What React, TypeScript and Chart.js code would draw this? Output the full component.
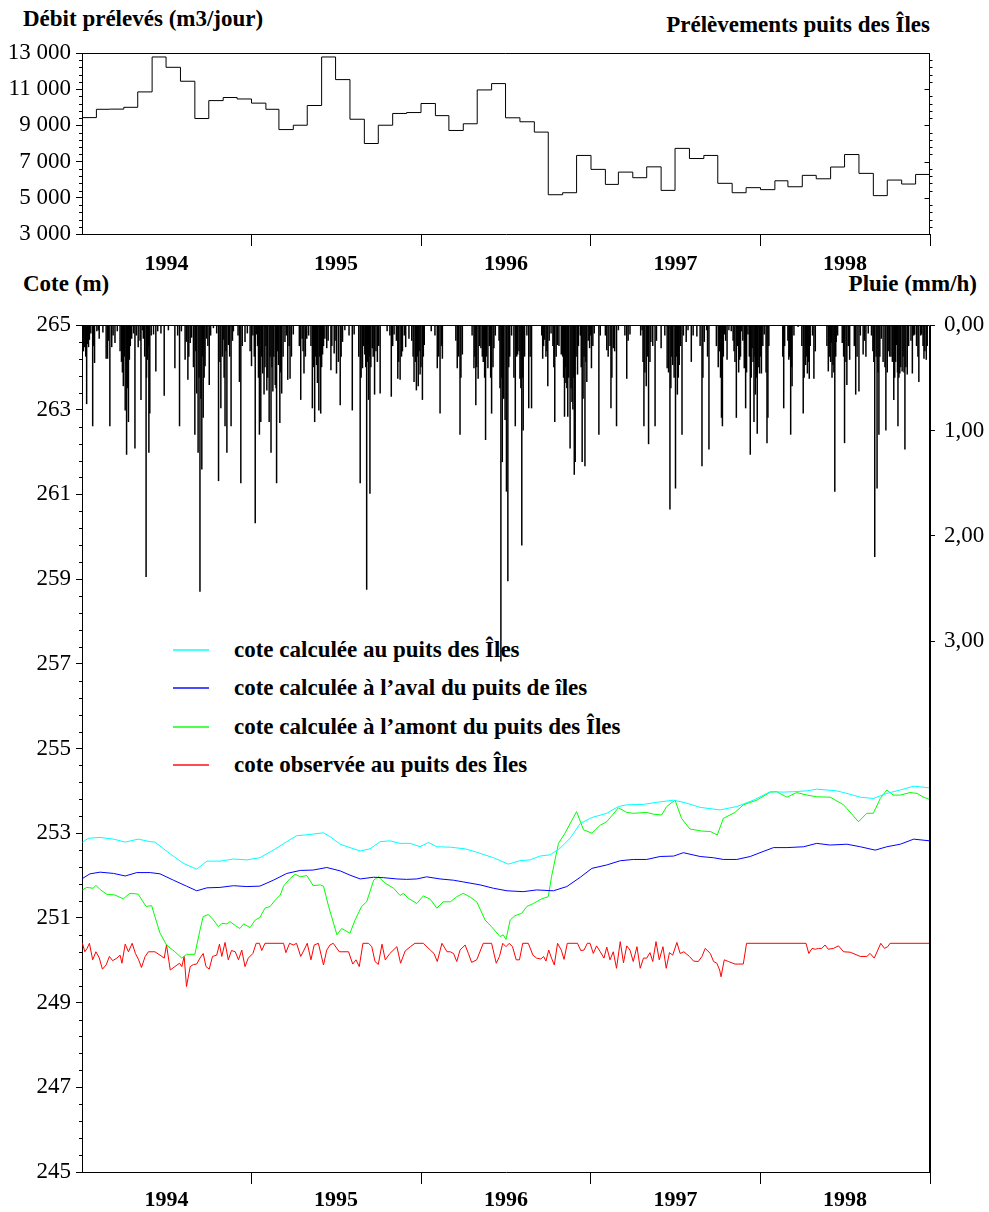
import React, { useEffect, useRef } from 'react';
import { Chart, registerables } from 'chart.js';

Chart.register(...registerables);

const FONT = '"Liberation Serif", "Times New Roman", Times, serif';

// ---------- tick labels / categories ----------
const yearLabels = ['1994', '1995', '1996', '1997', '1998'];
const yearEndDays = [365, 730, 1096, 1461, 1826]; // days since 1994-01-01
const pluieTicks = [0, 1, 2, 3];

// ---------- monthly withdrawals (m3/day), Jan 1994 .. Dec 1998 ----------
const withdrawals = [
  9430, 9890, 9900, 10000, 10850, 12780, 12210, 11440, 9380, 10370, 10540, 10460,
  10230, 9890, 8770, 9010, 10100, 12780, 11530, 9340, 8000, 9010, 9660, 9710,
  10210, 9540, 8720, 9090, 10960, 11310, 9420, 9200, 8630, 5170, 5280, 7340,
  6570, 5740, 6420, 6110, 6710, 5410, 7730, 7170, 7340, 5800, 5280, 5560,
  5450, 5940, 5610, 6240, 6050, 6700, 7390, 6350, 5120, 5980, 5760, 6290,
];

// ---------- levels [day, cote m] ----------
const coteCalculee: [number, number][] = [
  [1, 252.79], [14, 252.88], [39, 252.9], [68, 252.86], [93, 252.79], [121, 252.86], [147, 252.8], [157, 252.79],
  [190, 252.51], [218, 252.29], [247, 252.15], [269, 252.34], [297, 252.34], [326, 252.39], [355, 252.37], [383, 252.42],
  [412, 252.6], [441, 252.8], [462, 252.94], [491, 252.97], [520, 253.01], [534, 252.92], [556, 252.74], [577, 252.66],
  [599, 252.58], [620, 252.63], [642, 252.8], [663, 252.82], [685, 252.76], [707, 252.76], [728, 252.68], [746, 252.78],
  [764, 252.68], [793, 252.67], [825, 252.63], [850, 252.55], [886, 252.42], [918, 252.27], [943, 252.35], [965, 252.37],
  [986, 252.46], [1008, 252.49], [1029, 252.64], [1051, 252.88], [1073, 253.23], [1098, 253.37], [1130, 253.47], [1155, 253.63],
  [1173, 253.67], [1209, 253.68], [1238, 253.73], [1274, 253.78], [1302, 253.71], [1331, 253.61], [1374, 253.55], [1410, 253.63],
  [1446, 253.78], [1482, 253.98], [1510, 253.97], [1532, 253.98], [1561, 254.0], [1582, 254.04], [1625, 254.0], [1647, 253.94],
  [1676, 253.85], [1704, 253.82], [1733, 253.94], [1762, 254.02], [1791, 254.11], [1825, 254.07],
];

const coteAval: [number, number][] = [
  [1, 251.93], [17, 252.04], [39, 252.08], [68, 252.05], [93, 251.99], [118, 252.07], [147, 252.07], [168, 252.04],
  [197, 251.89], [225, 251.75], [247, 251.64], [269, 251.71], [297, 251.72], [326, 251.76], [355, 251.74], [383, 251.75],
  [412, 251.89], [441, 252.05], [470, 252.12], [498, 252.13], [527, 252.19], [556, 252.11], [577, 252.01], [599, 251.92],
  [628, 251.96], [649, 251.95], [678, 251.92], [699, 251.91], [721, 251.92], [742, 251.97], [771, 251.92], [800, 251.89],
  [821, 251.85], [857, 251.78], [886, 251.7], [915, 251.64], [950, 251.62], [979, 251.66], [1015, 251.64], [1044, 251.74],
  [1073, 251.96], [1098, 252.17], [1130, 252.25], [1159, 252.35], [1187, 252.38], [1216, 252.38], [1245, 252.45], [1274, 252.46],
  [1295, 252.54], [1331, 252.45], [1360, 252.42], [1381, 252.38], [1410, 252.38], [1439, 252.45], [1460, 252.54], [1489, 252.66],
  [1518, 252.66], [1554, 252.68], [1582, 252.76], [1611, 252.72], [1647, 252.74], [1676, 252.68], [1708, 252.6], [1733, 252.68],
  [1762, 252.74], [1791, 252.86], [1825, 252.82],
];

const coteAmont: [number, number][] = [
  [1, 251.66], [10, 251.72], [24, 251.7], [30, 251.77], [39, 251.67], [53, 251.56], [71, 251.54], [89, 251.45],
  [103, 251.58], [114, 251.57], [121, 251.56], [138, 251.27], [150, 251.29], [157, 251.03], [168, 250.64], [182, 250.36],
  [200, 250.2], [215, 250.05], [225, 250.14], [243, 250.14], [254, 250.71], [261, 251.03], [272, 251.08], [283, 250.95],
  [294, 250.79], [301, 250.87], [312, 250.86], [319, 250.91], [330, 250.82], [340, 250.75], [348, 250.86], [362, 250.77],
  [373, 250.95], [383, 251.01], [394, 251.23], [405, 251.27], [416, 251.42], [427, 251.54], [434, 251.75], [448, 251.93],
  [459, 252.03], [470, 251.97], [484, 252.0], [498, 251.76], [513, 251.78], [520, 251.75], [531, 251.27], [549, 250.6],
  [559, 250.75], [577, 250.64], [588, 250.95], [602, 251.27], [613, 251.38], [628, 251.89], [638, 251.97], [653, 251.82],
  [671, 251.7], [685, 251.53], [692, 251.58], [703, 251.46], [721, 251.34], [735, 251.52], [750, 251.44], [764, 251.23],
  [778, 251.38], [793, 251.38], [807, 251.5], [821, 251.58], [836, 251.49], [850, 251.38], [868, 250.95], [882, 250.79],
  [900, 250.56], [907, 250.6], [913, 250.49], [922, 250.95], [932, 251.05], [947, 251.11], [958, 251.27], [972, 251.34],
  [990, 251.45], [1004, 251.5], [1011, 251.97], [1026, 252.76], [1040, 253.0], [1065, 253.51], [1080, 253.08], [1098, 253.0],
  [1116, 253.19], [1130, 253.27], [1155, 253.6], [1173, 253.49], [1187, 253.47], [1216, 253.49], [1230, 253.45], [1248, 253.43],
  [1259, 253.63], [1277, 253.78], [1291, 253.35], [1309, 253.1], [1335, 253.05], [1353, 253.04], [1368, 252.96], [1381, 253.35],
  [1406, 253.49], [1424, 253.67], [1453, 253.78], [1482, 253.97], [1496, 253.98], [1518, 253.85], [1539, 253.96], [1561, 253.9],
  [1582, 253.86], [1611, 253.85], [1640, 253.67], [1672, 253.27], [1690, 253.47], [1704, 253.47], [1719, 253.82], [1733, 254.02],
  [1747, 253.9], [1762, 253.9], [1783, 253.96], [1798, 253.94], [1812, 253.85], [1825, 253.8],
];

const coteObservee: [number, number][] = [
  [1, 250.4], [6, 250.2], [11, 250.28], [16, 250.4], [23, 250.01], [30, 250.2], [37, 250.06], [44, 249.79],
  [52, 249.89], [59, 250.09], [66, 249.99], [75, 250.05], [82, 250.12], [86, 249.93], [93, 250.38], [100, 250.2],
  [108, 250.4], [115, 250.16], [122, 250.01], [128, 249.83], [136, 250.09], [143, 250.2], [157, 250.2], [168, 250.12],
  [177, 250.05], [182, 250.36], [190, 249.77], [200, 249.85], [210, 249.93], [215, 249.85], [220, 250.09], [225, 249.38],
  [233, 249.85], [240, 249.9], [247, 249.91], [254, 250.05], [261, 250.16], [267, 249.85], [274, 249.79], [281, 250.09],
  [290, 250.12], [296, 250.38], [301, 250.09], [308, 250.42], [315, 250.01], [322, 250.23], [330, 250.2], [337, 250.01],
  [344, 250.24], [351, 249.85], [358, 250.05], [368, 250.16], [375, 250.4], [382, 250.4], [387, 250.23], [394, 250.4],
  [434, 250.4], [439, 250.18], [447, 250.4], [455, 250.36], [462, 250.4], [471, 250.09], [478, 250.24], [485, 250.4],
  [493, 250.01], [500, 250.36], [509, 250.4], [520, 249.89], [527, 250.24], [534, 250.36], [541, 250.4], [554, 250.2],
  [574, 250.2], [583, 249.91], [590, 250.01], [597, 249.85], [605, 250.4], [617, 250.4], [624, 250.32], [631, 249.97],
  [638, 249.9], [646, 250.38], [653, 250.01], [663, 250.16], [678, 250.32], [686, 249.93], [696, 250.22], [707, 250.32],
  [717, 250.4], [735, 250.4], [750, 250.24], [758, 250.16], [765, 249.97], [775, 250.4], [786, 250.2], [793, 250.2],
  [800, 250.16], [807, 249.97], [814, 250.24], [825, 250.36], [832, 250.16], [839, 249.95], [850, 250.01], [864, 250.4],
  [882, 250.4], [892, 249.93], [899, 250.09], [906, 250.4], [913, 250.32], [920, 250.4], [927, 250.32], [935, 250.01],
  [942, 250.01], [949, 250.4], [961, 250.4], [971, 250.12], [979, 250.05], [988, 250.03], [994, 250.09], [999, 249.98],
  [1005, 250.24], [1011, 250.05], [1017, 249.89], [1024, 250.4], [1032, 250.24], [1038, 250.02], [1045, 250.4], [1067, 250.4],
  [1074, 250.23], [1081, 250.24], [1088, 250.4], [1094, 250.4], [1101, 250.16], [1108, 250.34], [1116, 250.2], [1124, 250.05],
  [1130, 250.31], [1137, 250.01], [1144, 250.2], [1151, 249.81], [1159, 250.44], [1166, 249.94], [1173, 250.34], [1180, 250.24],
  [1187, 249.97], [1195, 250.32], [1202, 249.81], [1209, 250.05], [1216, 250.05], [1223, 250.18], [1229, 249.97], [1236, 250.44],
  [1243, 250.01], [1251, 250.32], [1258, 249.81], [1265, 250.18], [1272, 250.12], [1281, 250.42], [1288, 250.16], [1296, 250.2],
  [1308, 250.09], [1317, 249.98], [1327, 249.97], [1335, 250.09], [1342, 250.28], [1353, 250.16], [1360, 249.97], [1367, 249.93],
  [1373, 249.77], [1376, 249.61], [1383, 250.01], [1392, 249.97], [1406, 249.91], [1424, 249.91], [1431, 250.4], [1559, 250.4],
  [1565, 250.16], [1572, 250.28], [1579, 250.26], [1586, 250.28], [1593, 250.28], [1600, 250.36], [1607, 250.26], [1618, 250.28],
  [1629, 250.34], [1640, 250.2], [1654, 250.19], [1676, 250.09], [1690, 250.09], [1697, 250.16], [1706, 250.05], [1720, 250.4],
  [1728, 250.28], [1735, 250.32], [1740, 250.4], [1825, 250.4],
];

// ---------- rainfall [day, mm/h] : main events ----------
const rainEvents: [number, number][] = [
  [3, 0.25], [6, 0.21], [10, 0.75], [14, 0.21], [16, 0.14], [23, 0.96], [27, 0.36], [32, 0.06], [37, 0.13], [52, 0.32],
  [55, 0.32], [60, 0.96], [64, 0.21], [71, 0.17], [82, 0.25], [89, 0.58], [93, 0.81], [96, 1.23], [100, 0.92], [102, 0.33],
  [107, 0.13], [114, 1.17], [121, 0.21], [127, 0.71], [132, 0.13], [138, 2.39], [141, 0.33], [144, 1.21], [146, 0.84], [154, 0.09],
  [159, 0.44], [170, 0.08], [177, 0.67], [200, 0.41], [210, 0.96], [222, 0.33], [225, 0.16], [228, 0.52], [233, 0.17], [243, 1.04],
  [247, 0.65], [250, 1.21], [254, 2.53], [258, 1.37], [261, 0.88], [265, 0.39], [268, 0.13], [274, 0.57], [283, 0.03], [294, 1.48],
  [299, 0.79], [304, 0.14], [308, 0.96], [312, 1.21], [315, 0.19], [321, 0.96], [326, 0.06], [339, 0.54], [342, 1.5], [351, 0.16],
  [362, 0.25], [365, 0.39], [373, 1.88], [376, 0.09], [382, 1.04], [385, 0.92], [389, 0.46], [392, 0.66], [398, 0.62], [403, 0.92],
  [407, 1.21], [411, 0.63], [416, 0.57], [419, 1.5], [423, 0.38], [426, 0.93], [430, 0.65], [437, 0.16], [443, 0.52], [448, 0.51],
  [455, 0.09], [471, 0.71], [474, 0.13], [478, 0.46], [484, 0.13], [496, 0.79], [501, 0.92], [505, 0.38], [510, 0.81], [514, 0.84],
  [518, 0.28], [523, 0.13], [527, 0.22], [536, 0.43], [543, 0.27], [548, 0.46], [556, 0.76], [561, 0.16], [566, 0.05], [582, 0.81],
  [586, 0.09], [599, 1.5], [604, 0.41], [609, 0.28], [613, 2.51], [617, 0.71], [620, 1.6], [625, 0.22], [630, 0.66], [636, 0.35],
  [642, 0.65], [657, 0.06], [666, 0.68], [672, 0.09], [680, 0.51], [685, 0.52], [690, 0.25], [697, 0.21], [704, 0.13], [715, 0.54],
  [720, 0.62], [724, 0.58], [728, 0.47], [733, 0.71], [737, 0.19], [752, 0.06], [765, 0.41], [771, 0.84], [776, 0.32], [808, 0.41],
  [814, 1.04], [819, 0.28], [844, 0.41], [848, 0.76], [853, 0.51], [859, 0.22], [864, 0.35], [869, 1.09], [874, 0.41], [882, 0.84],
  [887, 0.22], [902, 3.19], [905, 1.3], [914, 1.58], [917, 2.43], [933, 0.96], [938, 0.28], [943, 0.51], [947, 2.09], [950, 1.0],
  [962, 0.79], [968, 0.79], [992, 0.32], [996, 0.14], [1003, 0.58], [1010, 0.08], [1018, 0.92], [1024, 0.19], [1032, 0.28], [1039, 0.87],
  [1042, 0.55], [1046, 0.87], [1051, 1.17], [1055, 0.73], [1060, 1.42], [1062, 1.3], [1067, 0.47], [1077, 1.3], [1083, 1.34], [1087, 0.54],
  [1093, 0.22], [1097, 0.41], [1103, 0.08], [1113, 1.04], [1130, 0.24], [1139, 0.79], [1144, 0.22], [1151, 0.96], [1173, 0.51], [1180, 0.09],
  [1206, 0.05], [1210, 0.96], [1215, 0.58], [1220, 1.13], [1225, 0.16], [1234, 0.96], [1247, 0.22], [1260, 0.41], [1266, 1.75], [1272, 0.38],
  [1278, 1.55], [1282, 0.66], [1286, 0.38], [1292, 1.04], [1301, 0.16], [1312, 0.35], [1324, 0.11], [1335, 1.34], [1340, 0.16], [1350, 1.18],
  [1373, 0.25], [1377, 0.88], [1379, 0.96], [1383, 0.09], [1389, 0.33], [1398, 0.06], [1406, 0.35], [1409, 0.88], [1416, 0.33], [1420, 0.06],
  [1426, 0.41], [1429, 0.79], [1434, 0.09], [1439, 1.23], [1443, 0.22], [1447, 0.92], [1450, 0.66], [1454, 1.03], [1459, 0.46], [1463, 0.46],
  [1469, 0.09], [1475, 1.12], [1477, 0.88], [1511, 0.79], [1522, 0.33], [1526, 1.04], [1529, 0.58], [1542, 0.02], [1553, 0.84], [1558, 0.38],
  [1562, 0.46], [1566, 0.51], [1576, 0.51], [1579, 0.25], [1607, 0.44], [1614, 0.17], [1617, 0.38], [1621, 1.58], [1624, 0.16], [1637, 0.17],
  [1642, 1.12], [1647, 0.57], [1653, 0.33], [1666, 0.66], [1673, 0.63], [1682, 0.28], [1688, 0.3], [1693, 0.08], [1703, 0.25], [1707, 2.2],
  [1712, 1.55], [1716, 1.04], [1721, 0.13], [1731, 1.0], [1736, 0.25], [1742, 0.3], [1748, 0.71], [1754, 0.19], [1757, 0.96], [1761, 0.46],
  [1766, 0.44], [1772, 1.18], [1777, 0.47], [1788, 0.46], [1793, 0.09], [1802, 0.54], [1808, 0.09], [1813, 0.32], [1818, 0.33],
];

// ---------- rainfall [day, mm/h] : small showers (dense fringe) ----------
const rainShowers: [number, number][] = [
  [1, 0.1], [8, 0.3], [12, 0.18], [19, 0.08], [25, 0.2], [35, 0.05], [45, 0.07], [57, 0.15], [67, 0.1], [76, 0.06],
  [85, 0.35], [87, 0.45], [91, 0.3], [98, 0.6], [104, 0.2], [111, 0.08], [117, 0.1], [125, 0.15], [130, 0.05], [135, 0.3],
  [139, 0.5], [143, 0.2], [149, 0.1], [163, 0.06], [186, 0.05], [206, 0.1], [214, 0.06], [230, 0.3], [236, 0.12], [240, 0.4],
  [245, 0.25], [252, 0.5], [256, 0.7], [260, 0.3], [263, 0.5], [271, 0.2], [277, 0.1], [290, 0.08], [297, 0.35], [302, 0.3],
  [306, 0.5], [310, 0.25], [318, 0.3], [324, 0.15], [336, 0.1], [345, 0.2], [356, 0.08], [368, 0.1], [371, 0.3], [378, 0.2],
  [380, 0.5], [387, 0.3], [394, 0.4], [396, 0.2], [400, 0.5], [405, 0.3], [409, 0.4], [413, 0.3], [418, 0.6], [421, 0.25],
  [428, 0.45], [433, 0.3], [440, 0.1], [446, 0.2], [451, 0.3], [468, 0.2], [476, 0.25], [481, 0.3], [488, 0.1], [493, 0.2],
  [498, 0.4], [503, 0.3], [507, 0.55], [512, 0.3], [516, 0.4], [520, 0.2], [530, 0.15], [538, 0.2], [545, 0.15], [552, 0.35],
  [558, 0.3], [575, 0.1], [596, 0.3], [601, 0.5], [606, 0.2], [611, 0.4], [615, 0.35], [619, 0.3], [622, 0.4], [627, 0.3],
  [633, 0.25], [639, 0.2], [663, 0.1], [669, 0.2], [677, 0.15], [682, 0.35], [688, 0.3], [694, 0.1], [710, 0.15], [713, 0.3],
  [718, 0.35], [722, 0.3], [726, 0.25], [730, 0.4], [735, 0.3], [760, 0.1], [768, 0.3], [774, 0.2], [805, 0.15], [811, 0.3],
  [816, 0.5], [840, 0.1], [846, 0.3], [850, 0.4], [856, 0.2], [862, 0.3], [867, 0.5], [871, 0.3], [877, 0.2], [880, 0.5],
  [885, 0.4], [890, 0.1], [898, 0.15], [900, 0.6], [904, 0.5], [908, 0.7], [911, 0.9], [919, 0.4], [921, 0.3], [925, 0.1],
  [930, 0.5], [936, 0.3], [941, 0.25], [945, 0.6], [949, 0.5], [953, 0.3], [958, 0.1], [965, 0.3], [990, 0.1], [994, 0.2],
  [999, 0.3], [1001, 0.25], [1006, 0.15], [1014, 0.2], [1016, 0.4], [1021, 0.3], [1027, 0.2], [1035, 0.3], [1037, 0.5], [1041, 0.4],
  [1044, 0.6], [1048, 0.5], [1053, 0.6], [1057, 0.8], [1059, 0.5], [1064, 0.3], [1069, 0.2], [1073, 0.1], [1075, 0.4], [1079, 0.7],
  [1081, 0.3], [1085, 0.35], [1090, 0.15], [1095, 0.1], [1100, 0.2], [1116, 0.1], [1127, 0.1], [1133, 0.3], [1137, 0.2], [1141, 0.5],
  [1147, 0.25], [1155, 0.05], [1169, 0.1], [1176, 0.15], [1203, 0.1], [1208, 0.35], [1212, 0.45], [1218, 0.3], [1223, 0.35], [1229, 0.2],
  [1237, 0.15], [1255, 0.1], [1263, 0.45], [1268, 0.6], [1270, 0.3], [1275, 0.5], [1280, 0.3], [1284, 0.5], [1289, 0.2], [1295, 0.1],
  [1305, 0.05], [1316, 0.1], [1331, 0.2], [1337, 0.5], [1345, 0.05], [1347, 0.3], [1366, 0.2], [1370, 0.4], [1375, 0.5], [1381, 0.3],
  [1386, 0.15], [1393, 0.05], [1402, 0.15], [1404, 0.25], [1412, 0.2], [1414, 0.45], [1418, 0.3], [1423, 0.15], [1428, 0.35], [1431, 0.45],
  [1437, 0.3], [1441, 0.5], [1445, 0.35], [1449, 0.3], [1452, 0.5], [1456, 0.4], [1461, 0.3], [1466, 0.2], [1473, 0.45], [1479, 0.2],
  [1509, 0.3], [1513, 0.2], [1520, 0.15], [1524, 0.3], [1528, 0.4], [1533, 0.1], [1550, 0.2], [1555, 0.5], [1560, 0.3], [1564, 0.35],
  [1568, 0.2], [1573, 0.1], [1604, 0.2], [1609, 0.3], [1612, 0.35], [1615, 0.5], [1619, 0.45], [1623, 0.3], [1627, 0.1], [1640, 0.3],
  [1645, 0.35], [1650, 0.2], [1663, 0.2], [1669, 0.3], [1676, 0.1], [1685, 0.15], [1700, 0.1], [1705, 0.35], [1710, 0.3], [1714, 0.45],
  [1718, 0.3], [1725, 0.35], [1729, 0.4], [1734, 0.45], [1739, 0.3], [1745, 0.35], [1750, 0.5], [1752, 0.35], [1756, 0.45], [1759, 0.5],
  [1763, 0.4], [1768, 0.3], [1770, 0.45], [1774, 0.4], [1780, 0.2], [1785, 0.15], [1791, 0.1], [1797, 0.2], [1800, 0.3], [1806, 0.1],
  [1811, 0.2], [1815, 0.25], [1820, 0.2],
];

// ---------- helpers ----------
const DAY0 = Date.UTC(1994, 0, 1);
const monthStartDay = (i: number) => Math.round((Date.UTC(1994, i, 1) - DAY0) / 86400000);
const withdrawalPoints = withdrawals
  .map((v, i) => ({ x: monthStartDay(i), y: v }))
  .concat([{ x: monthStartDay(withdrawals.length), y: withdrawals[withdrawals.length - 1] }]);
const toXY = (arr: [number, number][]) => arr.map(([x, y]) => ({ x, y }));
const rainPoints = toXY(rainEvents.concat(rainShowers)).sort((a, b) => a.x - b.x);
const fmtThousands = (v: any) => String(v).replace(/\B(?=(\d{3})+(?!\d))/g, ' ');

const axisMarks = {
  id: 'axisMarks',
  afterDraw(chart: any, _a: any, opts: any) {
    const { ctx, chartArea: ca } = chart;
    ctx.save();
    ctx.strokeStyle = '#000';
    ctx.lineWidth = 1;
    ctx.beginPath();
    const T = Math.round(ca.top) + 0.5;
    const R = Math.round(ca.right) - 0.5;
    ctx.moveTo(ca.left, T);
    ctx.lineTo(R, T);
    ctx.lineTo(R, ca.bottom);
    for (const m of opts.marks || []) {
      const s = chart.scales[m.scale];
      const x0 = m.at === 'left' ? ca.left : R;
      const n = Math.round((s.max - s.min) / m.step);
      for (let i = 0; i <= n; i++) {
        const v = s.min + i * m.step;
        if (m.skip) {
          const q = (v - s.min) / m.skip;
          if (Math.abs(q - Math.round(q)) < 1e-6) continue;
        }
        const y = Math.round(s.getPixelForValue(v)) + 0.5;
        ctx.moveTo(x0, y);
        ctx.lineTo(x0 + m.dir * m.len, y);
      }
    }
    ctx.stroke();
    ctx.restore();
  },
};

const xScale = (height: number, padding: number) => ({
  type: 'linear',
  min: 0,
  max: 1826,
  offset: false,
  afterBuildTicks(s: any) {
    s.ticks = yearEndDays.map((v) => ({ value: v }));
  },
  afterFit(s: any) {
    s.height = height;
  },
  ticks: {
    autoSkip: false,
    maxRotation: 0,
    minRotation: 0,
    labelOffset: -85,
    padding,
    color: '#000',
    font: { family: FONT, size: 22, weight: 'bold' },
    callback: (_v: any, i: number) => yearLabels[i],
  },
  grid: { drawOnChartArea: false, tickLength: 12, color: '#000', offset: false },
  border: { color: '#000' },
});

const legendItems = [
  { label: 'cote calculée au puits des Îles', color: '#00FFFF' },
  { label: 'cote calculée à l’aval du puits de îles', color: '#0000FF' },
  { label: 'cote calculée à l’amont du puits des Îles', color: '#00FF00' },
  { label: 'cote observée au puits des Îles', color: '#FF0000' },
];

const boldText = (extra: any) => ({
  position: 'absolute' as const,
  fontFamily: FONT,
  fontWeight: 'bold' as const,
  fontSize: 23,
  lineHeight: '26px',
  whiteSpace: 'nowrap' as const,
  color: '#000',
  ...extra,
});

export default function App() {
  const topRef = useRef<HTMLCanvasElement>(null);
  const botRef = useRef<HTMLCanvasElement>(null);

  useEffect(() => {
    const top = new Chart(topRef.current as HTMLCanvasElement, {
      type: 'line',
      data: {
        datasets: [
          {
            data: withdrawalPoints,
            borderColor: '#000',
            borderWidth: 1,
            pointRadius: 0,
            stepped: true,
            tension: 0,
            fill: false,
          },
        ],
      },
      options: {
        animation: false,
        responsive: false,
        devicePixelRatio: 1,
        events: [],
        layout: { autoPadding: false, padding: { top: 53, right: 59, left: 0, bottom: 0 } },
        plugins: {
          legend: { display: false },
          tooltip: { enabled: false },
          axisMarks: {
            marks: [
              { scale: 'y', at: 'left', step: 400, skip: 2000, len: 3, dir: -1 },
              { scale: 'y', at: 'right', step: 2000, len: 5, dir: -1 },
              { scale: 'y', at: 'right', step: 400, skip: 2000, len: 3, dir: 1 },
            ],
          },
        },
        scales: {
          x: xScale(66, 5),
          y: {
            type: 'linear',
            min: 3000,
            max: 13000,
            afterFit(s: any) {
              s.width = 82;
            },
            ticks: {
              stepSize: 2000,
              autoSkip: false,
              padding: 5,
              color: '#000',
              font: { family: FONT, size: 23 },
              callback: fmtThousands,
            },
            grid: { drawOnChartArea: false, tickLength: 6, color: '#000' },
            border: { color: '#000' },
          },
        },
      } as any,
      plugins: [axisMarks],
    });

    const lineDs = (data: [number, number][], color: string, order: number) => ({
      type: 'line',
      data: toXY(data),
      yAxisID: 'y',
      borderColor: color,
      borderWidth: 1,
      pointRadius: 0,
      tension: 0,
      fill: false,
      order,
    });

    const bot = new Chart(botRef.current as HTMLCanvasElement, {
      type: 'line',
      data: {
        datasets: [
          {
            type: 'bar',
            data: rainPoints,
            yAxisID: 'yr',
            backgroundColor: '#000',
            borderWidth: 0,
            barThickness: 1.5,
            inflateAmount: 0,
            order: 10,
          },
          lineDs(coteObservee, '#FF0000', 4),
          lineDs(coteAmont, '#00FF00', 3),
          lineDs(coteAval, '#0000FF', 2),
          lineDs(coteCalculee, '#00FFFF', 1),
        ],
      },
      options: {
        animation: false,
        responsive: false,
        devicePixelRatio: 1,
        events: [],
        layout: { autoPadding: false, padding: { top: 25, right: 0, left: 0, bottom: 0 } },
        plugins: {
          legend: { display: false },
          tooltip: { enabled: false },
          axisMarks: {
            marks: [{ scale: 'y', at: 'left', step: 0.4, skip: 2, len: 3, dir: -1 }],
          },
        },
        scales: {
          x: xScale(40, 3),
          y: {
            type: 'linear',
            position: 'left',
            min: 245,
            max: 265,
            afterFit(s: any) {
              s.width = 82;
            },
            ticks: {
              stepSize: 2,
              autoSkip: false,
              padding: 5,
              color: '#000',
              font: { family: FONT, size: 23 },
            },
            grid: { drawOnChartArea: false, tickLength: 6, color: '#000' },
            border: { color: '#000' },
          },
          yr: {
            type: 'linear',
            position: 'right',
            reverse: true,
            min: 0,
            max: 8.03,
            afterBuildTicks(s: any) {
              s.ticks = pluieTicks.map((v) => ({ value: v }));
            },
            afterFit(s: any) {
              s.width = 59;
            },
            ticks: {
              autoSkip: false,
              padding: 9,
              color: '#000',
              font: { family: FONT, size: 23 },
              callback: (v: any) => Number(v).toFixed(2).replace('.', ','),
            },
            grid: { drawOnChartArea: false, tickLength: 5, color: '#000' },
            border: { color: '#000' },
          },
        },
      } as any,
      plugins: [axisMarks],
    });

    let alive = true;
    const fonts: any = (document as any).fonts;
    if (fonts && fonts.load) {
      Promise.all([
        fonts.load('23px "Liberation Serif"'),
        fonts.load('bold 22px "Liberation Serif"'),
      ])
        .then(() => {
          if (alive) {
            top.update('none');
            bot.update('none');
          }
        })
        .catch(() => {});
    }

    return () => {
      alive = false;
      top.destroy();
      bot.destroy();
    };
  }, []);

  return (
    <div style={{ position: 'absolute', left: 0, top: 0, width: 989, height: 1212, background: '#fff', overflow: 'hidden' }}>
      <div style={boldText({ left: 23, top: 6 })}>Débit prélevés (m3/jour)</div>
      <div style={boldText({ right: 59, top: 12 })}>Prélèvements puits des Îles</div>
      <div style={boldText({ left: 23, top: 271 })}>Cote (m)</div>
      <div style={boldText({ right: 12, top: 271 })}>Pluie (mm/h)</div>
      {legendItems.map((it, i) => {
        const lineY = [649, 687, 726, 764][i];
        return (
          <React.Fragment key={it.label}>
            <div style={{ position: 'absolute', left: 173, top: lineY, width: 36, height: 2, background: it.color, opacity: 0.7 }} />
            <div style={boldText({ left: 234, top: lineY - 12 })}>{it.label}</div>
          </React.Fragment>
        );
      })}
      <canvas ref={topRef} width={989} height={300} style={{ position: 'absolute', left: 0, top: 0, width: 989, height: 300 }} />
      <canvas ref={botRef} width={989} height={912} style={{ position: 'absolute', left: 0, top: 300, width: 989, height: 912 }} />
    </div>
  );
}
